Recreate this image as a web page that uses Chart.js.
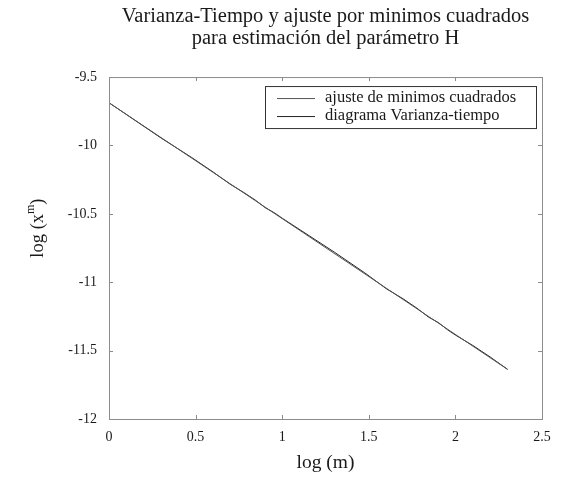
<!DOCTYPE html>
<html>
<head>
<meta charset="utf-8">
<script src="https://cdn.jsdelivr.net/npm/chart.js@4"></script>
<style>
  html, body { margin: 0; padding: 0; background: #fff; }
  #wrap { width: 582px; height: 479px; }
</style>
</head>
<body>
<div id="wrap"><canvas id="vtChart"></canvas></div>
<script>
// log(m) values and log of the aggregated variance
let logM = [0, 0.301, 0.477, 0.602, 0.699, 0.778, 0.845, 0.903, 0.954, 1, 1.301, 1.477, 1.602, 1.699, 1.778, 1.845, 1.903, 1.954, 2, 2.1, 2.2, 2.301];
let logVar = [-9.688, -9.946, -10.088, -10.195, -10.283, -10.344, -10.400, -10.456, -10.492, -10.532, -10.780, -10.932, -11.048, -11.122, -11.190, -11.255, -11.296, -11.347, -11.386, -11.462, -11.546, -11.637];

// least squares fit, end points
let fitX = [0, 2.301];
let fitY = [-9.688, -11.637];

let xTicks = [0, 0.5, 1, 1.5, 2, 2.5];
let yTicks = [-9.5, -10, -10.5, -11, -11.5, -12];

const serif = '"Liberation Serif", "Times New Roman", serif';
const textColor = '#1a1a1a';
const frameColor = '#8c8c8c';

function pts(xs, ys) {
    return xs.map((x, i) => ({ x: x, y: ys[i] }));
}

// box + inward ticks on all four sides
const framePlugin = {
    id: 'frame',
    afterDatasetsDraw(chart) {
        const { ctx, chartArea: a, scales } = chart;
        ctx.save();
        ctx.strokeStyle = frameColor;
        ctx.lineWidth = 1;
        ctx.strokeRect(a.left + 0.5, a.top + 0.5, a.right - a.left, a.bottom - a.top);
        ctx.beginPath();
        xTicks.forEach(v => {
            const px = Math.round(scales.x.getPixelForValue(v)) + 0.5;
            ctx.moveTo(px, a.bottom); ctx.lineTo(px, a.bottom - 4);
            ctx.moveTo(px, a.top); ctx.lineTo(px, a.top + 4);
        });
        yTicks.forEach(v => {
            const py = Math.round(scales.y.getPixelForValue(v)) + 0.5;
            ctx.moveTo(a.left, py); ctx.lineTo(a.left + 4, py);
            ctx.moveTo(a.right, py); ctx.lineTo(a.right - 4, py);
        });
        ctx.stroke();
        ctx.restore();
    }
};

// legend box in the upper right corner of the plot
const legendBox = {
    id: 'legendBox',
    afterDatasetsDraw(chart) {
        const { ctx, chartArea: a } = chart;
        const ds = chart.data.datasets;
        const w = 271, h = 42;
        const x0 = a.right - 6 - w, y0 = a.top + 9;
        ctx.save();
        ctx.fillStyle = '#fff';
        ctx.fillRect(x0, y0, w, h);
        ctx.strokeStyle = '#333';
        ctx.lineWidth = 1;
        ctx.strokeRect(x0 + 0.5, y0 + 0.5, w, h);
        ctx.font = '16.5px ' + serif;
        ctx.textBaseline = 'middle';
        ds.forEach((d, i) => {
            const y = y0 + 12 + i * 18;
            ctx.strokeStyle = d.borderColor;
            ctx.beginPath();
            ctx.moveTo(x0 + 12, y + 0.5);
            ctx.lineTo(x0 + 50, y + 0.5);
            ctx.stroke();
            ctx.fillStyle = textColor;
            ctx.fillText(d.label, x0 + 60, y);
        });
        ctx.restore();
    }
};

// y axis title with superscript m
const yTitle = {
    id: 'yTitle',
    afterDraw(chart) {
        const { ctx, chartArea: a } = chart;
        ctx.save();
        ctx.translate(38, a.top + 151);
        ctx.rotate(-Math.PI / 2);
        ctx.fillStyle = textColor;
        ctx.textBaseline = 'middle';
        const main = 'log (x';
        ctx.font = '18.5px ' + serif;
        const w1 = ctx.measureText(main).width;
        ctx.font = '12px ' + serif;
        const w2 = ctx.measureText('m').width;
        ctx.font = '18.5px ' + serif;
        const w3 = ctx.measureText(')').width;
        let x = -(w1 + w2 + w3) / 2;
        ctx.fillText(main, x, 0);
        x += w1;
        ctx.font = '12px ' + serif;
        ctx.fillText('m', x, -7);
        x += w2;
        ctx.font = '18.5px ' + serif;
        ctx.fillText(')', x, 0);
        ctx.restore();
    }
};

new Chart(document.querySelector('#vtChart'), {
    type: 'line',
    data: {
        datasets: [
            {
                label: 'ajuste de minimos cuadrados',
                data: pts(fitX, fitY),
                borderColor: '#555555',
                borderWidth: 1,
                pointRadius: 0,
                fill: false
            },
            {
                label: 'diagrama Varianza-tiempo',
                data: pts(logM, logVar),
                borderColor: '#222222',
                borderWidth: 1,
                pointRadius: 0,
                fill: false
            }
        ]
    },
    options: {
        responsive: true,
        maintainAspectRatio: false,
        animation: false,
        layout: { padding: { top: 0, right: 40, left: 0, bottom: 0 } },
        plugins: {
            legend: { display: false },
            tooltip: { enabled: false },
            title: {
                display: true,
                fullSize: false,
                text: ['Varianza-Tiempo y ajuste por minimos cuadrados', 'para estimación del parámetro H'],
                color: textColor,
                font: { family: serif, size: 20.5, weight: 'normal', lineHeight: 1.05 },
                padding: { top: 6, bottom: 28 }
            }
        },
        scales: {
            x: {
                type: 'linear',
                min: 0,
                max: 2.5,
                afterFit(s) { s.height = 60; },
                afterBuildTicks(s) { s.ticks = xTicks.map(v => ({ value: v })); },
                border: { display: false },
                grid: { display: false, drawTicks: false },
                ticks: {
                    color: textColor,
                    padding: 10,
                    font: { family: serif, size: 14 },
                    maxRotation: 0,
                    callback: v => String(v)
                },
                title: {
                    display: true,
                    text: 'log (m)',
                    color: textColor,
                    font: { family: serif, size: 19.5 },
                    padding: { top: 10 }
                }
            },
            y: {
                min: -12,
                max: -9.5,
                afterFit(s) { s.width = 109; },
                afterBuildTicks(s) { s.ticks = yTicks.map(v => ({ value: v })); },
                border: { display: false },
                grid: { display: false, drawTicks: false },
                ticks: {
                    color: textColor,
                    padding: 12,
                    font: { family: serif, size: 14 },
                    callback: v => String(v)
                }
            }
        }
    },
    plugins: [framePlugin, legendBox, yTitle]
});
</script>
</body>
</html>
